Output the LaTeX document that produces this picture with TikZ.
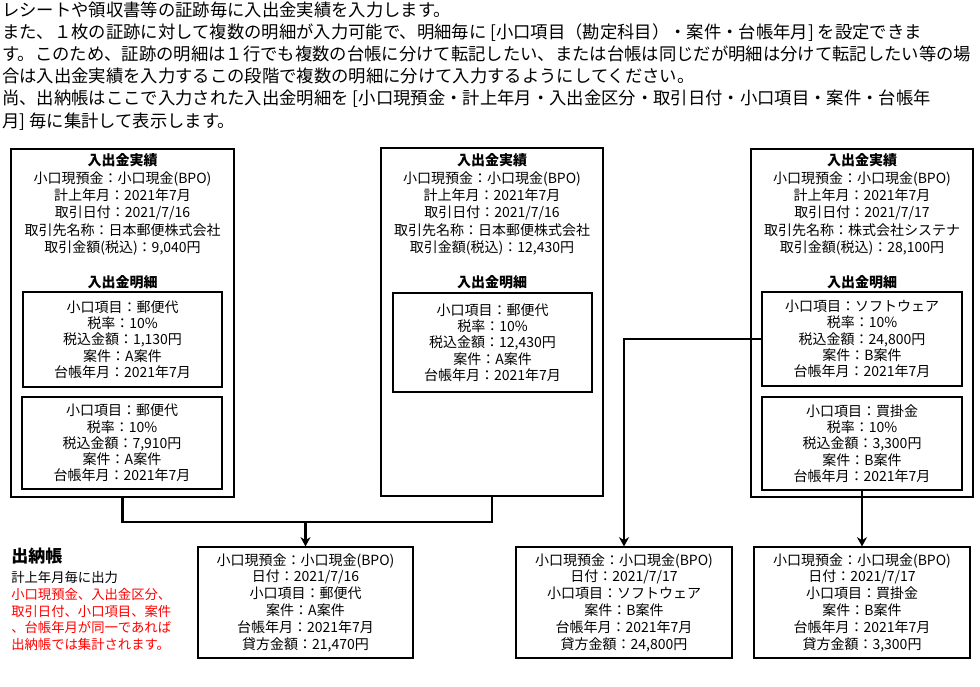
\documentclass[tikz,border=0pt]{standalone}
\usepackage{fontspec}
\setmainfont{Noto Sans CJK JP}
\usetikzlibrary{arrows.meta}
\tikzset{
  sz/.style 2 args={minimum width=#1*0.75pt, minimum height=#2*0.75pt},
  obox/.style={draw, line width=0.8pt, inner sep=0pt},
  ibox/.style={draw, line width=0.8pt, inner sep=0pt, align=center, font=\fontsize{10.5}{12.2}\selectfont},
  bbox/.style={draw, line width=0.8pt, inner sep=0pt, align=center, font=\fontsize{10.5}{12.6}\selectfont},
  head/.style={align=center, inner sep=0pt, font=\fontsize{10.5}{13}\selectfont},
  subhead/.style={inner sep=0pt, font=\bfseries\fontsize{10.5}{13}\selectfont},
  intro/.style={anchor=base west, inner sep=0pt, font=\fontsize{13}{16}\selectfont},
  conn/.style={line width=2.2pt},
  arr/.style={line width=2.2pt, -{Stealth[length=7pt,width=7.5pt]}}
}
\begin{document}
\begin{tikzpicture}[x=0.75pt,y=-0.75pt]
\useasboundingbox (0,0) rectangle (980,686);

% intro text
\node[intro] (t1) at (2,16) {レシートや領収書等の証跡毎に入出金実績を入力します。};
\node[intro] (t2) at (2,38.2) {また、１枚の証跡に対して複数の明細が入力可能で、明細毎に [小口項目（勘定科目）・案件・台帳年月] を設定できま};
\node[intro] (t3) at (2,60.4) {す。このため、証跡の明細は１行でも複数の台帳に分けて転記したい、または台帳は同じだが明細は分けて転記したい等の場};
\node[intro] (t4) at (2,82.6) {合は入出金実績を入力するこの段階で複数の明細に分けて入力するようにしてください。};
\node[intro] (t5) at (2,104.8) {尚、出納帳はここで入力された入出金明細を [小口現預金・計上年月・入出金区分・取引日付・小口項目・案件・台帳年};
\node[intro] (t6) at (2,127) {月] 毎に集計して表示します。};

% outer boxes
\node[obox, sz={223}{348}] (L) at (122.5,323) {};
\node[obox, sz={222}{348}] (M) at (492,322) {};
\node[obox, sz={222}{348}] (R) at (862,323) {};

% headers
\node[head] (Lh) at (122.5,204.5) {\textbf{入出金実績}\\小口現預金：小口現金(BPO)\\計上年月：2021年7月\\取引日付：2021/7/16\\取引先名称：日本郵便株式会社\\取引金額(税込)：9,040円};
\node[head] (Mh) at (492,204.5) {\textbf{入出金実績}\\小口現預金：小口現金(BPO)\\計上年月：2021年7月\\取引日付：2021/7/16\\取引先名称：日本郵便株式会社\\取引金額(税込)：12,430円};
\node[head] (Rh) at (862,204.5) {\textbf{入出金実績}\\小口現預金：小口現金(BPO)\\計上年月：2021年7月\\取引日付：2021/7/17\\取引先名称：株式会社システナ\\取引金額(税込)：28,100円};

\node[subhead] (Ls) at (122.5,282) {入出金明細};
\node[subhead] (Ms) at (492,282) {入出金明細};
\node[subhead] (Rs) at (862,282) {入出金明細};

% inner boxes
\node[ibox, sz={199}{95}] (L1) at (122.5,339.5) {小口項目：郵便代\\税率：10\%\\税込金額：1,130円\\案件：A案件\\台帳年月：2021年7月};
\node[ibox, sz={200}{92}] (L2) at (122,443) {小口項目：郵便代\\税率：10\%\\税込金額：7,910円\\案件：A案件\\台帳年月：2021年7月};
\node[ibox, sz={199}{99}] (M1) at (492.5,342.5) {小口項目：郵便代\\税率：10\%\\税込金額：12,430円\\案件：A案件\\台帳年月：2021年7月};
\node[ibox, sz={200}{94}] (R1) at (862,339) {小口項目：ソフトウェア\\税率：10\%\\税込金額：24,800円\\案件：B案件\\台帳年月：2021年7月};
\node[ibox, sz={200}{93}] (R2) at (862,443.5) {小口項目：買掛金\\税率：10\%\\税込金額：3,300円\\案件：B案件\\台帳年月：2021年7月};

% bottom boxes
\node[bbox, sz={215}{111}] (B1) at (305.5,602.5) {小口現預金：小口現金(BPO)\\日付：2021/7/16\\小口項目：郵便代\\案件：A案件\\台帳年月：2021年7月\\貸方金額：21,470円};
\node[bbox, sz={216}{111}] (B2) at (624,602.5) {小口現預金：小口現金(BPO)\\日付：2021/7/17\\小口項目：ソフトウェア\\案件：B案件\\台帳年月：2021年7月\\貸方金額：24,800円};
\node[bbox, sz={216}{111}] (B3) at (862,602.5) {小口現預金：小口現金(BPO)\\日付：2021/7/17\\小口項目：買掛金\\案件：B案件\\台帳年月：2021年7月\\貸方金額：3,300円};

% ledger note
\node[anchor=base west, inner sep=0pt, font=\bfseries\fontsize{12.75}{15}\selectfont] (note) at (11,562) {出納帳};
\node[anchor=north west, inner sep=0pt, align=left, font=\fontsize{10}{12.6}\selectfont] (notetxt) at (11,571) {計上年月毎に出力\\\textcolor{red}{小口現預金、入出金区分、}\\\textcolor{red}{取引日付、小口項目、案件}\\\textcolor{red}{、台帳年月が同一であれば}\\\textcolor{red}{出納帳では集計されます。}};

% connectors
\coordinate (jL) at (122.5,522);
\coordinate (jM) at (492,522);
\draw[conn] (L.south) -- (jL) -- (jM) -- (M.south);
\draw[arr] (B1.north |- jL) -- (B1.north);
\draw[arr] (R1.west) -| (B2.north);
\draw[arr] (R2.south) -- (B3.north);
\end{tikzpicture}
\end{document}
